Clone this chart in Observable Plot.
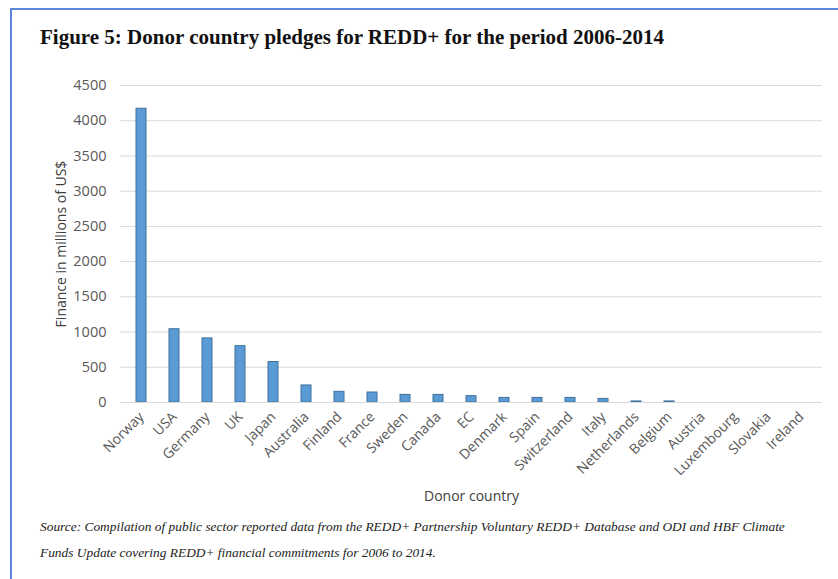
<!DOCTYPE html>
<html>
<head>
<meta charset="utf-8">
<script src="https://cdn.jsdelivr.net/npm/d3@7"></script>
<script src="https://cdn.jsdelivr.net/npm/@observablehq/plot@0.6"></script>
<style>
  html, body { margin: 0; padding: 0; background: #fff; }
  #page { position: relative; width: 838px; height: 579px; overflow: hidden; }
  #frame { position: absolute; left: 10px; top: 8px; width: 840px; height: 600px;
           border-left: 2px solid #5b87d8; border-top: 2px solid #5b87d8; box-sizing: border-box; }
  #title { position: absolute; left: 40px; top: 25px; font-family: "Liberation Serif", serif;
           font-weight: bold; font-size: 21px; color: #111; white-space: nowrap; }
  #chart { position: absolute; left: 0; top: 70px; }
  #caption { position: absolute; left: 40px; top: 514px; font-family: "Liberation Serif", serif;
             font-style: italic; font-size: 13.4px; line-height: 26px; color: #222; white-space: nowrap; }
</style>
</head>
<body>
<div id="page">
  <div id="frame"></div>
  <div id="title">Figure 5: Donor country pledges for REDD+ for the period 2006-2014</div>
  <div id="chart"></div>
  <div id="caption">Source: Compilation of public sector reported data from the REDD+ Partnership Voluntary REDD+ Database and ODI and HBF Climate<br>Funds Update covering REDD+ financial commitments for 2006 to 2014.</div>
</div>
<script>
const countries = ["Norway","USA","Germany","UK","Japan","Australia","Finland","France","Sweden","Canada","EC","Denmark","Spain","Switzerland","Italy","Netherlands","Belgium","Austria","Luxembourg","Slovakia","Ireland"];
const pledges = [4170,1040,910,800,575,242,152,142,108,108,90,65,65,65,51,15,15,0,0,0,0];
const yTicks = [0,500,1000,1500,2000,2500,3000,3500,4000,4500];

const data = countries.map((c, i) => ({country: c, value: pledges[i]}));

const chart = Plot.plot({
  width: 838,
  height: 440,
  marginTop: 15,
  marginBottom: 108,
  marginLeft: 120,
  marginRight: 16,
  style: {fontFamily: "'Open Sans', sans-serif", background: "transparent", color: "#404040"},
  x: {domain: countries, paddingInner: 0.69, paddingOuter: 0.345},
  y: {domain: [0, 4500]},
  marks: [
    Plot.gridY(yTicks, {stroke: "#d9d9d9", strokeOpacity: 1}),
    Plot.axisY(yTicks, {
      tickSize: 0, tickPadding: 14, fontSize: 14.5, color: "#595959", tickFormat: "d",
      label: null
    }),
    Plot.axisY({
      ticks: [], tickSize: 0, fontSize: 14, color: "#404040",
      label: "Finance in millions of US$", labelAnchor: "center", labelArrow: "none", labelOffset: 64
    }),
    Plot.axisX({
      tickSize: 0, tickPadding: 12, tickRotate: -45, fontSize: 14, color: "#595959",
      label: null
    }),
    Plot.axisX({
      ticks: [], tickSize: 0, fontSize: 14, color: "#404040",
      label: "Donor country", labelAnchor: "center", labelArrow: "none", labelOffset: 98
    }),
    Plot.barY(data, {x: "country", y: "value", fill: "#5b9bd5", stroke: "#41719c", strokeWidth: 1}),
    Plot.ruleY([0], {stroke: "#d9d9d9"})
  ]
});
document.getElementById("chart").appendChild(chart);
</script>
</body>
</html>
